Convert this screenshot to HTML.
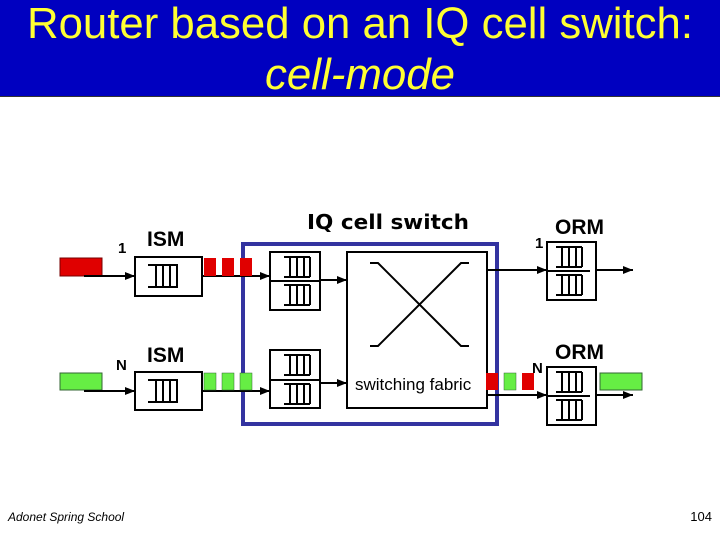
<!DOCTYPE html>
<html><head><meta charset="utf-8"><style>
html,body{margin:0;padding:0;background:#fff;}
svg{display:block;}
</style></head><body>
<svg width="720" height="540" viewBox="0 0 720 540" xmlns="http://www.w3.org/2000/svg" font-family="Liberation Sans, Arial, sans-serif">
<defs>
<marker id="ah" markerWidth="10" markerHeight="8" refX="10" refY="4" orient="auto" markerUnits="userSpaceOnUse">
<path d="M0,0 L10,4 L0,8 z" fill="#000"/>
</marker>
<g id="q4">
<path d="M0,0 H30 M0,22 H30 M8,0 V22 M15,0 V22 M22,0 V22 M29,0 V22" stroke="#000" stroke-width="2" fill="none"/>
</g>
<g id="q3">
<path d="M0,0 H26 M0,20 H26 M6,0 V20 M13,0 V20 M20,0 V20 M26,0 V20" stroke="#000" stroke-width="2" fill="none"/>
</g>
</defs>
<rect x="0" y="0" width="720" height="96" fill="#0000c0"/>
<line x1="0" y1="96.5" x2="720" y2="96.5" stroke="#333" stroke-width="1"/>
<text x="27" y="38" font-size="44" fill="#ffff33" textLength="666" lengthAdjust="spacingAndGlyphs">Router based on an IQ cell switch:</text>
<text x="265" y="89" font-size="44" font-style="italic" fill="#ffff33" textLength="190" lengthAdjust="spacingAndGlyphs">cell-mode</text>

<rect x="243" y="244" width="254" height="180" fill="none" stroke="#3333a0" stroke-width="4"/>

<rect x="60" y="258" width="42" height="18" fill="#e00000" stroke="#700" stroke-width="1"/>
<line x1="84" y1="276" x2="135" y2="276" stroke="#000" stroke-width="2" marker-end="url(#ah)"/>
<rect x="135" y="257" width="67" height="39" fill="#fff" stroke="#000" stroke-width="2"/>
<use href="#q4" x="148" y="265"/>
<line x1="202" y1="276" x2="270" y2="276" stroke="#000" stroke-width="2" marker-end="url(#ah)"/>
<rect x="204" y="258" width="12" height="18" fill="#e00000"/>
<rect x="222" y="258" width="12" height="18" fill="#e00000"/>
<rect x="240" y="258" width="12" height="18" fill="#e00000"/>
<rect x="270" y="252" width="50" height="58" fill="#fff" stroke="#000" stroke-width="2"/>
<line x1="270" y1="281" x2="320" y2="281" stroke="#000" stroke-width="2"/>
<use href="#q3" x="284" y="257"/>
<use href="#q3" x="284" y="285"/>
<line x1="320" y1="280" x2="347" y2="280" stroke="#000" stroke-width="2" marker-end="url(#ah)"/>

<rect x="60" y="373" width="42" height="17" fill="#66ee44" stroke="#363" stroke-width="1"/>
<line x1="84" y1="391" x2="135" y2="391" stroke="#000" stroke-width="2" marker-end="url(#ah)"/>
<rect x="135" y="372" width="67" height="38" fill="#fff" stroke="#000" stroke-width="2"/>
<use href="#q4" x="148" y="380"/>
<line x1="202" y1="391" x2="270" y2="391" stroke="#000" stroke-width="2" marker-end="url(#ah)"/>
<rect x="204" y="373" width="12" height="17" fill="#66ee44" stroke="#363" stroke-width="0.5"/>
<rect x="222" y="373" width="12" height="17" fill="#66ee44" stroke="#363" stroke-width="0.5"/>
<rect x="240" y="373" width="12" height="17" fill="#66ee44" stroke="#363" stroke-width="0.5"/>
<rect x="270" y="350" width="50" height="58" fill="#fff" stroke="#000" stroke-width="2"/>
<line x1="270" y1="380" x2="320" y2="380" stroke="#000" stroke-width="2"/>
<use href="#q3" x="284" y="355"/>
<use href="#q3" x="284" y="384"/>
<line x1="320" y1="383" x2="347" y2="383" stroke="#000" stroke-width="2" marker-end="url(#ah)"/>

<rect x="347" y="252" width="140" height="156" fill="#fff" stroke="#000" stroke-width="2"/>
<path d="M370,263 H378 L461,346 H469 M370,346 H378 L461,263 H469" stroke="#000" stroke-width="2" fill="none"/>
<text x="355" y="390" font-size="17" fill="#000">switching fabric</text>
<text x="388" y="229" font-size="20" font-weight="bold" fill="#000" text-anchor="middle" font-family="DejaVu Sans, sans-serif" textLength="162" lengthAdjust="spacingAndGlyphs">IQ cell switch</text>

<line x1="487" y1="270" x2="547" y2="270" stroke="#000" stroke-width="2" marker-end="url(#ah)"/>
<rect x="547" y="242" width="49" height="58" fill="#fff" stroke="#000" stroke-width="2"/>
<line x1="547" y1="271" x2="590" y2="271" stroke="#000" stroke-width="2"/>
<use href="#q3" x="556" y="247"/>
<use href="#q3" x="556" y="275"/>
<line x1="596" y1="270" x2="633" y2="270" stroke="#000" stroke-width="2" marker-end="url(#ah)"/>

<line x1="487" y1="395" x2="547" y2="395" stroke="#000" stroke-width="2" marker-end="url(#ah)"/>
<rect x="486" y="373" width="12" height="17" fill="#e00000"/>
<rect x="504" y="373" width="12" height="17" fill="#66ee44" stroke="#363" stroke-width="0.5"/>
<rect x="522" y="373" width="12" height="17" fill="#e00000"/>
<rect x="547" y="367" width="49" height="58" fill="#fff" stroke="#000" stroke-width="2"/>
<line x1="547" y1="396" x2="590" y2="396" stroke="#000" stroke-width="2"/>
<use href="#q3" x="556" y="372"/>
<use href="#q3" x="556" y="400"/>
<rect x="600" y="373" width="42" height="17" fill="#66ee44" stroke="#363" stroke-width="1"/>
<line x1="596" y1="395" x2="633" y2="395" stroke="#000" stroke-width="2" marker-end="url(#ah)"/>

<g font-size="15" font-weight="bold" fill="#000">
<text x="118" y="253">1</text>
<text x="116" y="370">N</text>
<text x="535" y="248">1</text>
<text x="532" y="373">N</text>
</g>
<g font-size="21" font-weight="bold" fill="#000">
<text x="147" y="246">ISM</text>
<text x="147" y="362">ISM</text>
<text x="555" y="234">ORM</text>
<text x="555" y="359">ORM</text>
</g>

<text x="8" y="521" font-size="12" font-style="italic" fill="#000">Adonet Spring School</text>
<text x="712" y="521" font-size="13" fill="#000" text-anchor="end">104</text>
</svg>
</body></html>
